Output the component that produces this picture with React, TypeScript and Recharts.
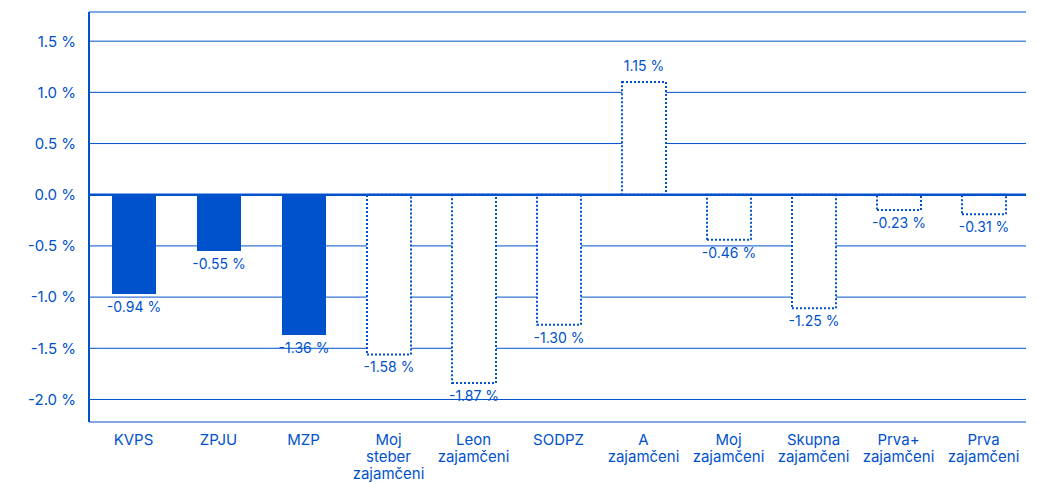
import { BarChart, Bar, XAxis, YAxis, CartesianGrid, ReferenceLine, LabelList, Cell } from 'recharts'

const BLUE = '#0052CC'
const FONT = 'Inter, sans-serif'

const categories = [
  'KVPS',
  'ZPJU',
  'MZP',
  'Moj steber zajamčeni',
  'Leon zajamčeni',
  'SODPZ',
  'A zajamčeni',
  'Moj zajamčeni',
  'Skupna zajamčeni',
  'Prva+ zajamčeni',
  'Prva zajamčeni',
]
// bar heights as drawn in the picture
const values = [-0.97, -0.55, -1.37, -1.56, -1.84, -1.27, 1.1, -0.44, -1.11, -0.15, -0.19]
// values printed next to the bars
const valueLabels = ['-0.94 %', '-0.55 %', '-1.36 %', '-1.58 %', '-1.87 %', '-1.30 %', '1.15 %', '-0.46 %', '-1.25 %', '-0.23 %', '-0.31 %']
const styles = ['solid', 'solid', 'solid', 'dotted', 'dotted', 'dotted', 'dotted', 'dotted', 'dotted', 'dotted', 'dotted']
const yTicks = [-2, -1.5, -1, -0.5, 0, 0.5, 1, 1.5]

const data = categories.map((name, i) => ({ name, value: values[i], label: valueLabels[i] }))

function CategoryTick({ x, y, payload }: any) {
  const words = String(payload.value).split(' ')
  return (
    <text x={x} y={y} textAnchor="middle" fill={BLUE} fontSize={15} fontFamily={FONT}>
      {words.map((w, i) => (
        <tspan key={i} x={x} dy={i === 0 ? 15 : 17}>{w}</tspan>
      ))}
    </text>
  )
}

function ValueLabel(p: any) {
  const { x, y, width, height, value } = p
  const top = Math.min(y, y + height)
  const bottom = Math.max(y, y + height)
  const neg = String(value).startsWith('-')
  return (
    <text x={x + width / 2} y={neg ? bottom + 18 : top - 11} textAnchor="middle" fill={BLUE} fontSize={14} fontFamily={FONT}>
      {value}
    </text>
  )
}

export default function App() {
  return (
    <BarChart width={1031} height={475} data={data} margin={{ top: 4, right: 13, bottom: 1, left: 0 }}>
      <CartesianGrid vertical={false} stroke={BLUE} strokeWidth={1} />
      <XAxis
        dataKey="name"
        interval={0}
        height={60}
        axisLine={false}
        tickLine={false}
        padding={{ left: 2, right: 0 }}
        tick={<CategoryTick />}
      />
      <YAxis
        width={81}
        domain={[-2.22, 1.785]}
        ticks={yTicks}
        allowDataOverflow
        tickFormatter={(v: number) => v.toFixed(1) + ' %'}
        tick={{ fill: BLUE, fontSize: 15, fontFamily: FONT }}
        axisLine={{ stroke: BLUE, strokeWidth: 2 }}
        tickLine={false}
        tickMargin={7}
      />
      <Bar dataKey="value" barSize={44} isAnimationActive={false}>
        {data.map((d, i) =>
          styles[i] === 'solid' ? (
            <Cell key={d.name} fill={BLUE} />
          ) : (
            <Cell key={d.name} fill="#ffffff" stroke={BLUE} strokeWidth={2} strokeDasharray="2 2" />
          )
        )}
        <LabelList dataKey="label" content={ValueLabel} />
      </Bar>
      <ReferenceLine y={0} stroke={BLUE} strokeWidth={2.5} />
    </BarChart>
  )
}
